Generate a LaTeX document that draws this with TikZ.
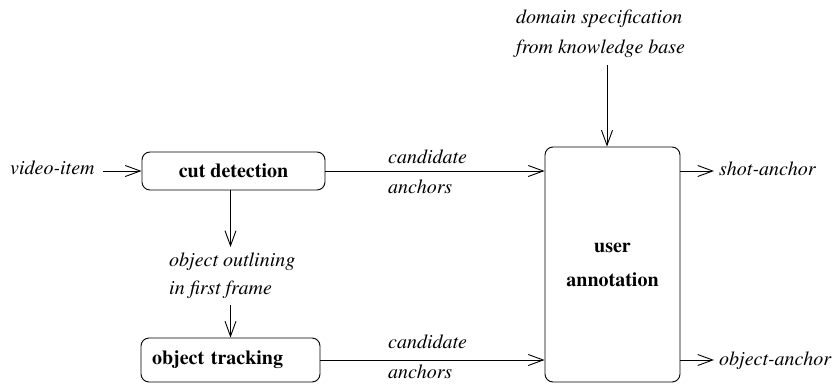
\documentclass[tikz,border=0pt]{standalone}
\usepackage[T1]{fontenc}
\usepackage{times}
\usetikzlibrary{arrows.meta}
\tikzset{
	procbox/.style={draw, rounded corners=8pt, line width=0.9pt, inner sep=0pt, font=\fontsize{20}{24}\selectfont\bfseries},
	lbl/.style={inner sep=0pt, align=left, font=\fontsize{20}{30}\selectfont\itshape},
	flow/.style={line width=0.9pt, -{Straight Barb[length=15pt,width=11pt,line width=0.9pt]}}
}

\begin{document}
\begin{tikzpicture}[x=1pt, y=-1pt]
			%%%%% START %%%%%
			\useasboundingbox (0, 0) rectangle (835, 383);
			
			\node[procbox, minimum width=183pt, minimum height=38pt] (cut) at (233.5, 171) {cut detection};
			\node[procbox, minimum height=44pt, text width=157pt, inner xsep=11pt, align=left] (track) at (230.5, 360) {object tracking};
			\node[procbox, minimum width=135pt, minimum height=235pt, align=center] (user) at (612.5, 264.5) {user\\[10pt]annotation};
			
			\node[lbl, anchor=base west, inner xsep=8pt] (vid) at (2, 174) {video-item};
			\node[lbl, anchor=north west] (cand1) at (388, 149.3) {candidate\\anchors};
			\node[lbl, anchor=north west] (cand2) at (388, 334.3) {candidate\\anchors};
			\node[lbl, anchor=north west, inner ysep=6pt, font=\fontsize{20}{28}\selectfont\itshape] (outl) at (169, 247) {object outlining\\in first frame};
			\node[lbl, anchor=north west] (dom) at (516, 9.3) {domain specification\\from knowledge base};
			\node[lbl, anchor=base west, inner xsep=5pt] (shot) at (714, 175) {shot-anchor};
			\node[lbl, anchor=base west, inner xsep=5pt] (oanch) at (714, 365) {object-anchor};
			\coordinate (dtop) at (607, 65);
			
			\draw[flow] (vid.east |- cut.west) -- (cut.west);
			\draw[flow] (cut.east) -- (cut.east -| user.west);
			\draw[flow] (track.east) -- (track.east -| user.west);
			\draw[flow] (cut.south -| track.north) -- (outl.north -| track.north);
			\draw[flow] (outl.south -| track.north) -- (track.north);
			\draw[flow] (dtop) -- (dtop |- user.north);
			\draw[flow] (cut.east -| user.east) -- (shot.west |- cut.east);
			\draw[flow] (track.east -| user.east) -- (oanch.west |- track.east);
			
			%%%%% END %%%%%
		\end{tikzpicture}
\end{document}
